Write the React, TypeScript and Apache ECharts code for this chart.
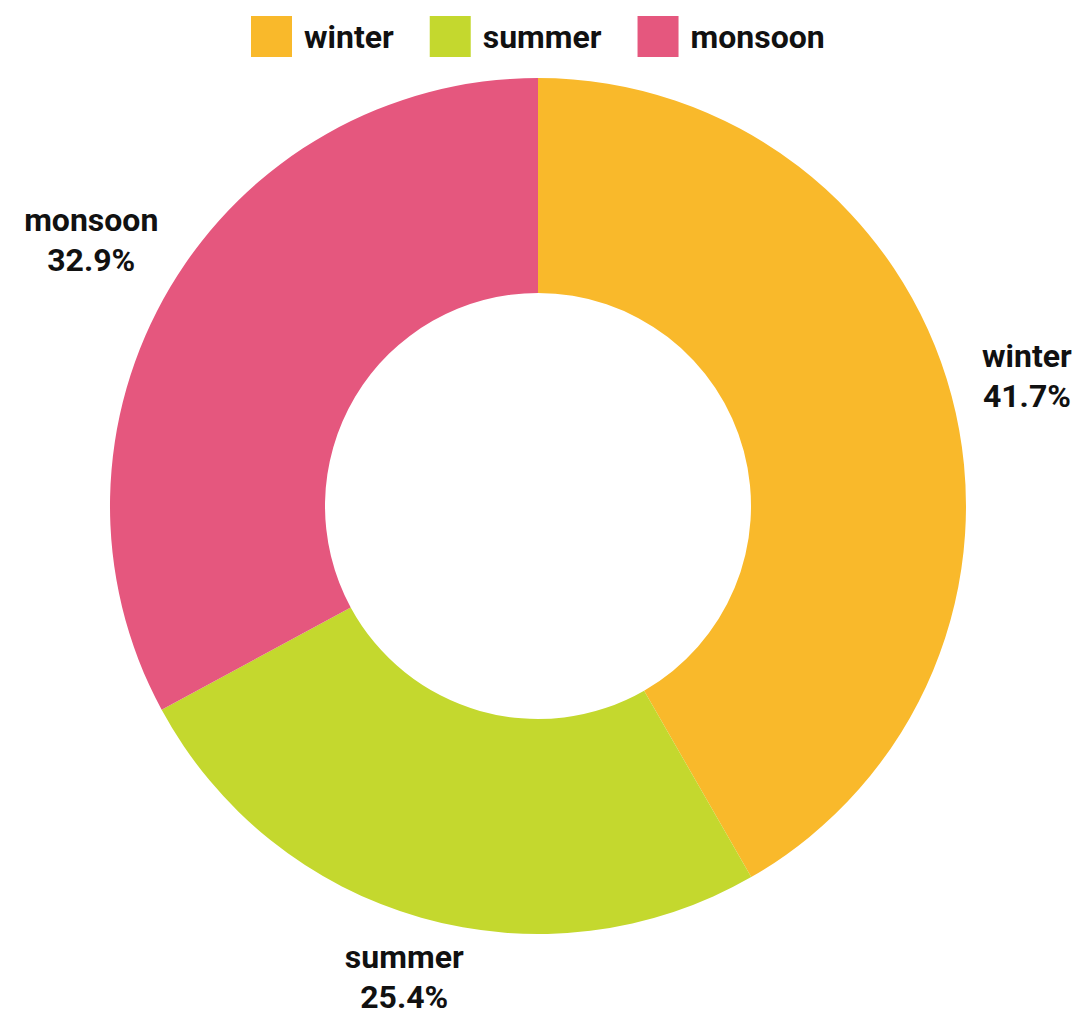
import React, { useEffect, useRef } from "react";
import * as echarts from "echarts";

const categories = ["winter", "summer", "monsoon"];
const shares = [41.7, 25.4, 32.9];
const colors = ["#F9B92B", "#C4D82E", "#E5577E"];
const labelReach = [78, 62, 92];

const FONT = "Roboto, 'Liberation Sans', sans-serif";

export default function App() {
  const ref = useRef<HTMLDivElement>(null);
  useEffect(() => {
    if (!ref.current) return;
    const chart = echarts.init(ref.current, undefined, { renderer: "svg" });
    chart.setOption({
      animation: false,
      backgroundColor: "#ffffff",
      legend: {
        top: 16,
        left: 251,
        padding: 0,
        itemWidth: 41,
        itemHeight: 41,
        itemGap: 36,
        icon: "rect",
        data: categories,
        textStyle: {
          fontFamily: FONT,
          fontWeight: "bold",
          fontSize: 32,
          color: "#111",
          padding: [0, 0, 0, 7],
        },
      },
      series: [
        {
          type: "pie",
          center: [538, 506],
          radius: [213, 428],
          startAngle: 90,
          clockwise: true,
          avoidLabelOverlap: false,
          data: categories.map((name, i) => ({
            name,
            value: shares[i],
            itemStyle: { color: colors[i] },
            labelLine: { show: false, length: labelReach[i], length2: 0 },
          })),
          label: {
            show: true,
            position: "outside",
            distanceToLabelLine: 0,
            formatter: (p: any) => `${p.name}\n${p.value.toFixed(1)}%`,
            fontFamily: FONT,
            fontWeight: "bold",
            fontSize: 32,
            lineHeight: 40,
            color: "#111",
          },
          labelLayout: { align: "center" },
          emphasis: { disabled: true },
        },
      ],
    });
    return () => chart.dispose();
  }, []);
  return (
    <div
      ref={ref}
      style={{ position: "fixed", left: 0, top: 0, width: 1088, height: 1019 }}
    />
  );
}
